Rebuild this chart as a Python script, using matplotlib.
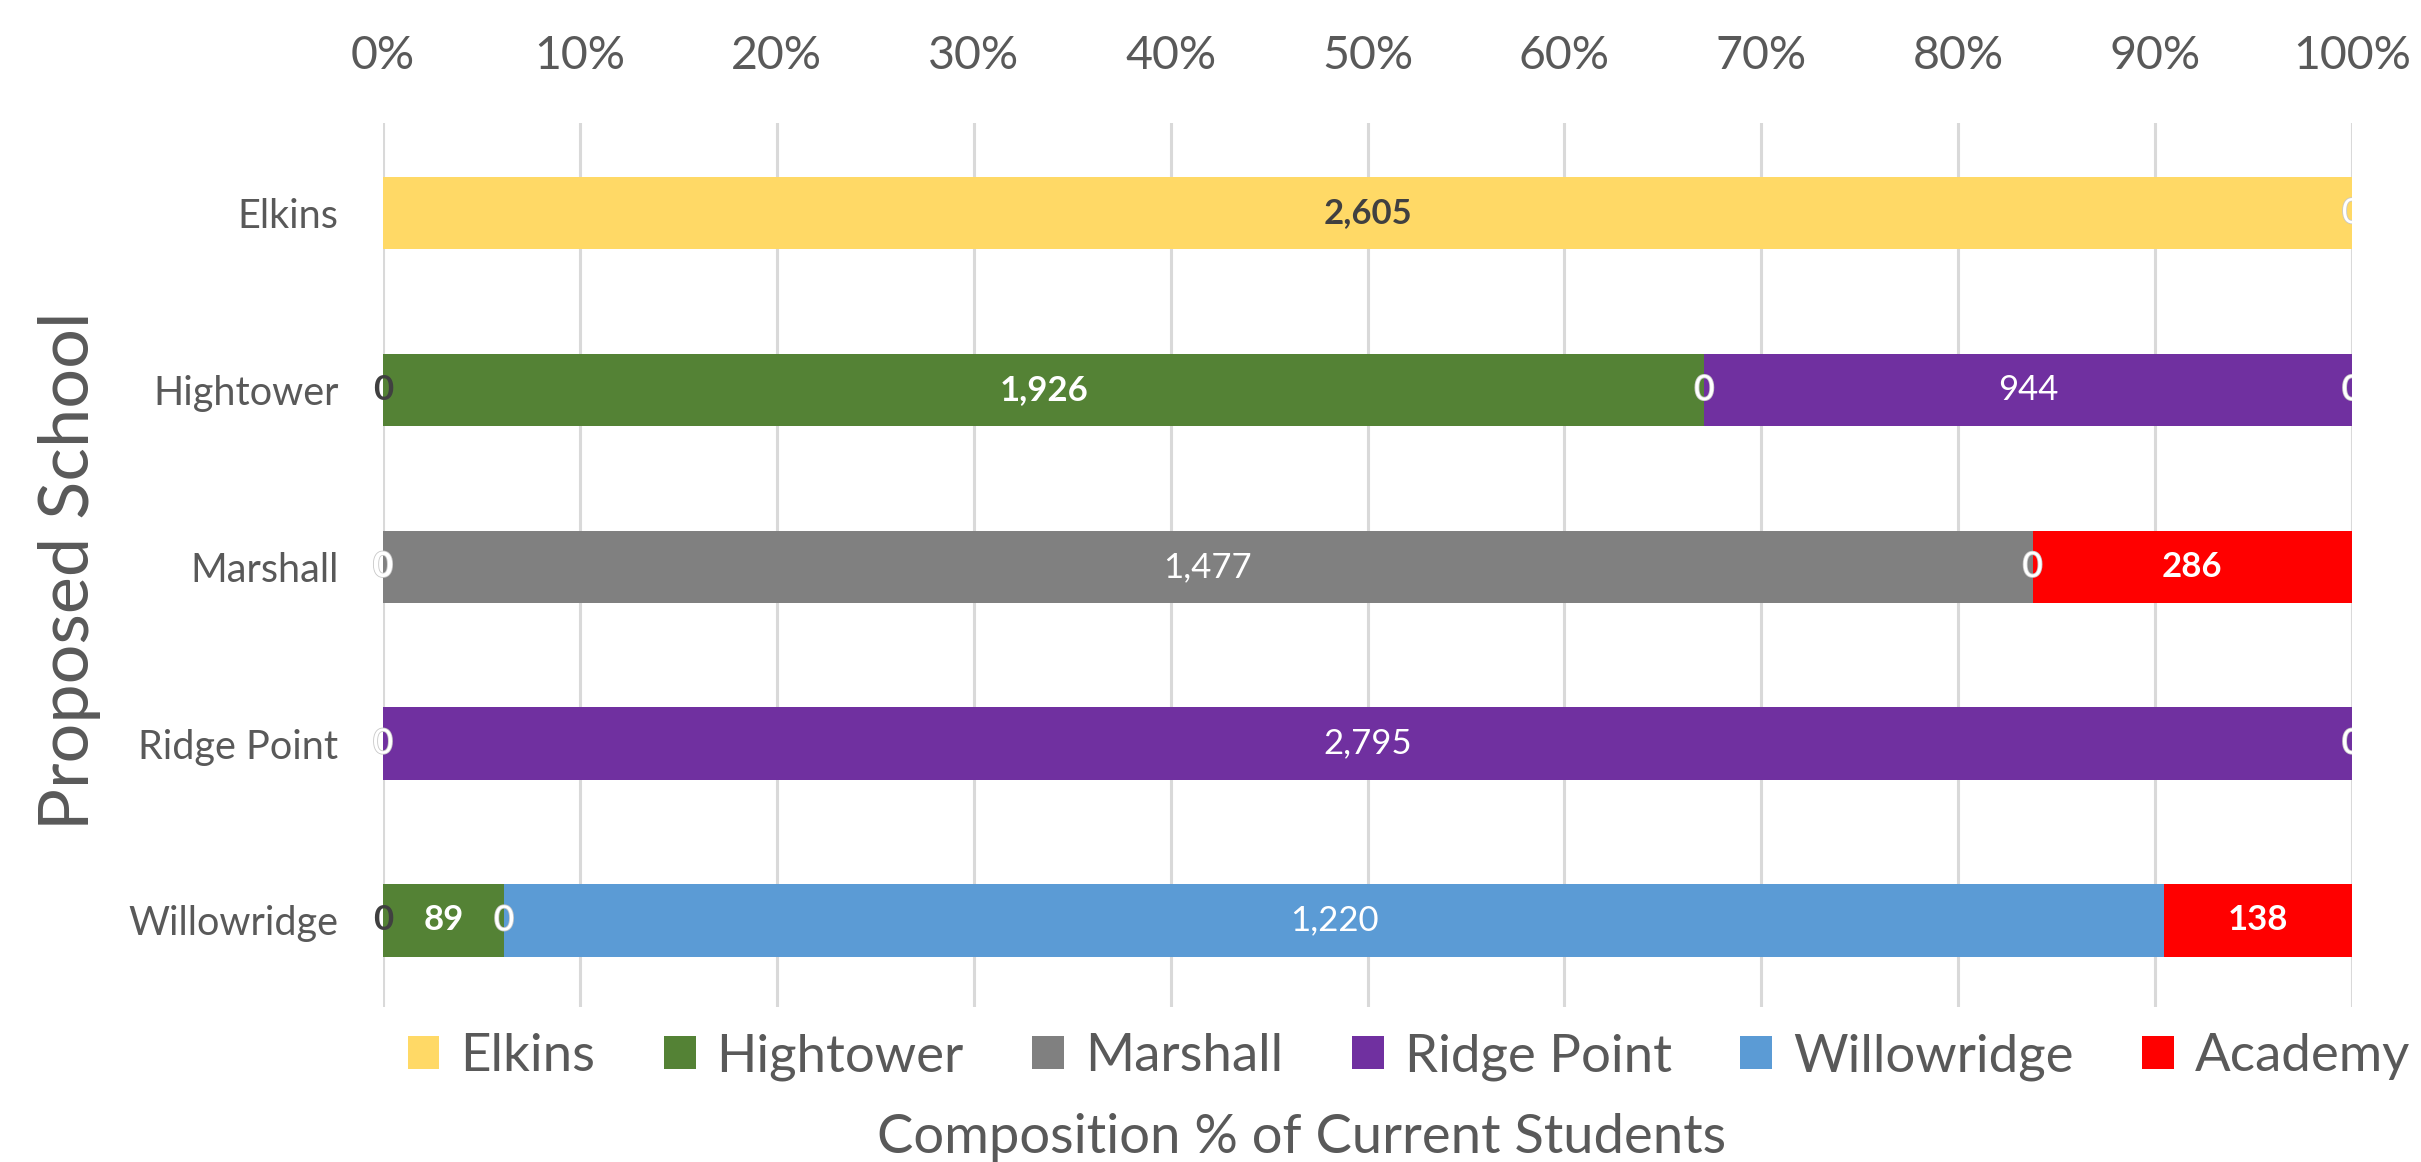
import matplotlib
matplotlib.use("Agg")
import matplotlib.pyplot as plt
import matplotlib.patheffects as pe
from matplotlib.patches import Patch
import numpy as np

plt.rcParams['font.family'] = ['Lato', 'DejaVu Sans']

# rows of the chart (proposed school), top to bottom
schools = ["Elkins", "Hightower", "Marshall", "Ridge Point", "Willowridge"]

# current-school series; nan means no value / no label in that row
series_names = ["Elkins", "Hightower", "Marshall", "Ridge Point", "Willowridge", "Academy"]
elkins = [2605, 0, np.nan, np.nan, 0]
hightower = [np.nan, 1926, 0, np.nan, 89]
marshall = [np.nan, 0, 1477, 0, 0]
ridge_point = [np.nan, 944, np.nan, 2795, np.nan]
willowridge = [0, 0, 0, 0, 1220]
academy = [np.nan, np.nan, 286, np.nan, 138]

tick_labels = ["0%", "10%", "20%", "30%", "40%", "50%", "60%", "70%", "80%", "90%", "100%"]

colors = ["#FFD966", "#548235", "#808080", "#7030A0", "#5B9BD5", "#FF0000"]
label_colors = ["#404040", "white", "white", "white", "white", "white"]
label_weights = ["bold", "bold", "normal", "normal", "normal", "bold"]

text_grey = "#595959"

data = np.array([elkins, hightower, marshall, ridge_point, willowridge, academy], dtype=float)
totals = np.nansum(data, axis=0)
shares = np.nan_to_num(data) / totals

fig = plt.figure(figsize=(24.21, 11.62), dpi=100)
ax = fig.add_axes([383 / 2421, 1 - 1007 / 1162, (2352 - 383) / 2421, (1007 - 123) / 1162])

y = np.arange(len(schools))
left = np.zeros(len(schools))
for i, name in enumerate(series_names):
    ax.barh(y, shares[i], left=left, height=0.41, color=colors[i], zorder=2)
    for j in range(len(schools)):
        val = data[i, j]
        if np.isnan(val):
            continue
        xc = left[j] + shares[i, j] / 2
        t = ax.text(xc, y[j], f"{int(val):,}", ha="center", va="center",
                    fontsize=25, color=label_colors[i], fontweight=label_weights[i],
                    zorder=3, clip_on=xc >= 0.999)
        if val == 0 and label_colors[i] == "white":
            t.set_path_effects([pe.withStroke(linewidth=1.2, foreground="#C8C8C8")])
    left += shares[i]

ax.set_xlim(0, 1)
ax.set_ylim(4.49, -0.51)
ax.set_xticks(np.linspace(0, 1, 11))
ax.set_xticklabels(tick_labels)
ax.xaxis.tick_top()
ax.tick_params(axis="x", length=0, pad=33, labelsize=33.5, labelcolor=text_grey)
ax.set_yticks(y)
ax.set_yticklabels(schools)
ax.tick_params(axis="y", length=0, pad=32, labelsize=28.5, labelcolor=text_grey)
ax.grid(axis="x", color="#D9D9D9", linewidth=2.2, zorder=0)
for s in ax.spines.values():
    s.set_visible(False)

handles = [Patch(facecolor=c, edgecolor="none") for c in colors]
leg = fig.legend(handles, series_names, loc="center", bbox_to_anchor=(1409 / 2421, 1 - 1057 / 1162),
                 ncol=6, frameon=False, fontsize=38, handlelength=0.6, handleheight=0.6,
                 handletextpad=0.4, columnspacing=1.3, labelcolor=text_grey)

fig.text(1302 / 2421, 1 - 1137 / 1162, "Composition % of Current Students",
         ha="center", va="center", fontsize=39.2, color=text_grey)
fig.text(70 / 2421, 1 - 571 / 1162, "Proposed School", rotation=90,
         ha="center", va="center", fontsize=50.5, color=text_grey)

fig.savefig("out.png", dpi=100, facecolor="white")
